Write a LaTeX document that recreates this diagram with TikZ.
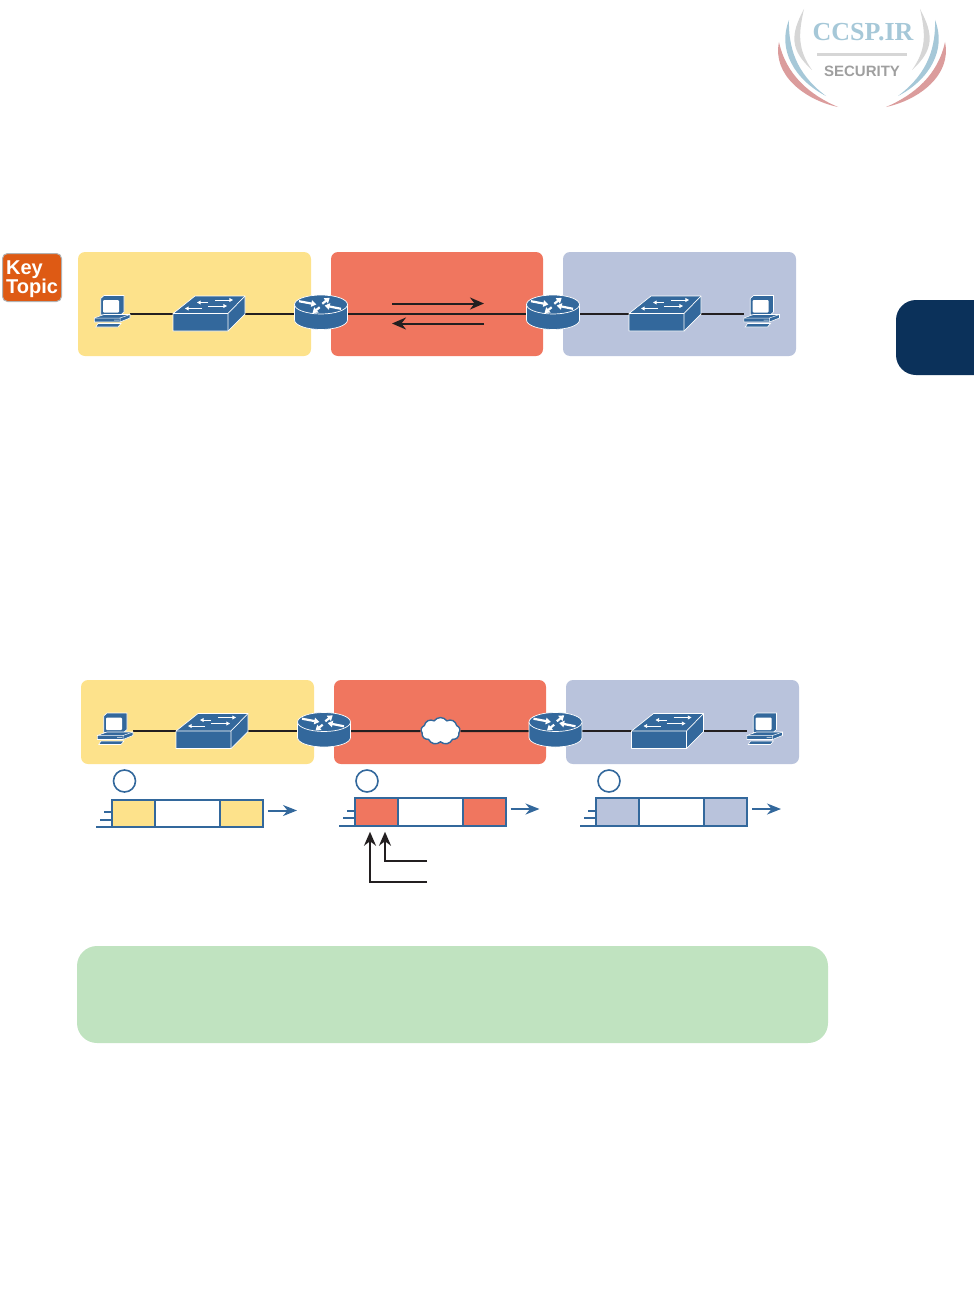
\documentclass[tikz,border=0pt]{standalone}
\usepackage{fontspec}
\setmainfont{Liberation Sans}
\newfontfamily\serifa{Liberation Serif}
\usetikzlibrary{arrows.meta,positioning,shapes.symbols}
\definecolor{Crema}{HTML}{FDE28B}
\definecolor{Coral}{HTML}{F0765F}
\definecolor{Lavanda}{HTML}{B9C3DC}
\definecolor{Acero}{HTML}{33689C}
\definecolor{Menta}{HTML}{C0E3C0}
\definecolor{Marino}{HTML}{0B315A}
\definecolor{Naranja}{HTML}{DE5A14}
\definecolor{Negro}{HTML}{231F20}
\definecolor{Celeste}{HTML}{A6C8D8}
\definecolor{Salmon}{HTML}{DB9C9C}
\definecolor{Perla}{HTML}{D6D6D6}

\begin{document}
\begin{tikzpicture}[x=1pt,y=-1pt,
        zona/.style={fill=#1,rounded corners=7pt,inner sep=0pt,outer sep=0pt},
        hueco/.style={inner sep=0pt,outer sep=0pt,minimum width=#1,minimum height=20pt},
        celda/.style={draw=Acero,fill=#1,line width=2pt,minimum width=43pt,minimum height=27.5pt,inner sep=0pt,outer sep=0pt},
        cuerpo/.style={draw=Acero,fill=white,line width=2pt,minimum width=65pt,minimum height=27.5pt,inner sep=0pt,outer sep=0pt},
        ronda/.style={circle,draw=Acero,fill=white,line width=1.6pt,minimum size=22pt,inner sep=0pt},
        enlace/.style={line width=2pt,draw=Negro},
        flecha/.style={-{Stealth[length=14pt,width=12pt]},line width=2pt,draw=Negro},
        salida/.style={-{Stealth[length=14pt,width=11pt]},line width=2pt,draw=Acero},
        traza/.style={line width=2pt,draw=Acero},
        blanca/.style={-{Triangle[length=3.6pt,width=3.8pt]},draw=white,line width=#1},
        gruesa/.style={-{Triangle[length=5pt,width=6.5pt]},draw=white,line width=2.2pt},
        estacion/.pic={
          \filldraw[fill=Acero,draw=white,line width=.6pt] (-11.3,-15) -- (-8,-18) -- (12,-18) -- (12,-1.5) -- (8.7,1.5) -- (-11.3,1.5) -- cycle;
          \fill[white,rounded corners=1pt] (-9,-13.5) rectangle (7,-1);
          \filldraw[fill=Acero,draw=white,line width=.6pt] (-17.7,4.5) -- (-8,1) -- (18,1) -- (18,4.5) -- (8,8.5) -- (-17.7,8.5) -- cycle;
          \draw[white,line width=.5pt] (-17.7,4.5) -- (8,4.5) -- (18,1) (8,4.5) -- (8,8.5) (2,6.5) -- (7,6.5);
          \filldraw[fill=Acero,draw=white,line width=.6pt] (-16.3,13.5) -- (-14,10) -- (9,10) -- (6,13.5) -- cycle;
        },
        conmutador/.pic={
          \filldraw[fill=Acero,draw=white,line width=.7pt,line join=round] (-36,0) -- (-14,-17.5) -- (36,-17.5) -- (36,.5) -- (19,17.5) -- (-36,17.5) -- cycle;
          \draw[white,line width=.7pt] (-36,0) -- (19,0) -- (36,-17.5) (19,0) -- (19,17.5);
          \draw[blanca=.8pt] (-1,-11) -- (-12,-11);
          \draw[blanca=.8pt] (6,-13.5) -- (24,-13.5);
          \draw[blanca=.8pt] (-7,-5) -- (-24,-5);
          \draw[blanca=.8pt] (-1,-7.5) -- (18,-7.5);
        },
        enrutador/.pic={
          \filldraw[fill=Acero,draw=white,line width=.7pt] (-26.5,-9) -- (-26.5,6.5) arc[start angle=180,end angle=360,x radius=26.5pt,y radius=9.5pt] -- (26.5,-9);
          \filldraw[fill=Acero,draw=white,line width=.7pt] (0,-9) circle[x radius=26.5pt,y radius=9.5pt];
          \draw[gruesa] (-22,-12.3) -- (-4.7,-9);
          \draw[gruesa] (1.3,-9.7) -- (8.7,-15.7);
          \draw[gruesa] (20,-4.7) -- (3.7,-8);
          \draw[gruesa] (-1.3,-6.3) -- (-8.5,-.5);
        },
        alas/.pic={
          \fill[Perla] (-58,9) .. controls (-72,35) and (-72,50) .. (-50,70) .. controls (-64,50) and (-64,35) .. (-58,9);
          \fill[Celeste] (-73,20) .. controls (-85,50) and (-67,80) .. (-36,96) .. controls (-60,78) and (-74,55) .. (-73,20);
          \fill[Salmon] (-83,42) .. controls (-90,75) and (-57,100) .. (-24,107) .. controls (-52,95) and (-76,75) .. (-83,42);
        }]
        \useasboundingbox (0,0) rectangle (974,1314);

        % marca de agua
        \pic at (862,0) {alas};
        \pic[xscale=-1] at (862,0) {alas};
        \node[text=Celeste,font=\serifa\bfseries\fontsize{26}{26}\selectfont,inner sep=0pt] (marca) at (863,32) {CCSP.IR};
        \node[fill=Perla,minimum width=90pt,minimum height=3pt,inner sep=0pt] (raya) at (862,55) {};
        \node[text=gray!75,font=\bfseries\fontsize{15}{15}\selectfont,inner sep=0pt] (seguridad) at (862,71) {SECURITY};

        % pestana y distintivo
        \fill[Marino,rounded corners=20pt] (974,300) -- (896,300) -- (896,375) -- (974,375);
        \node[fill=Naranja,draw=gray!60,line width=1pt,rounded corners=5pt,minimum width=59pt,minimum height=48pt,inner sep=0pt] (clave) at (32,277.5) {};
        \node[text=white,inner sep=0pt,align=left,font=\bfseries\fontsize{20}{17}\selectfont,yshift=-2pt] (rotulo) at (clave) {Key\\[-1pt]Topic};

        % primera red
        \node[zona=Crema,minimum width=233pt,minimum height=104pt] (z1) at (194.5,304) {};
        \node[zona=Coral,minimum width=212pt,minimum height=104pt,right=20pt of z1] (z2) {};
        \node[zona=Lavanda,minimum width=233pt,minimum height=104pt,right=20pt of z2] (z3) {};
        \node[hueco=36pt] (pc1) at (112,313.5) {};
        \node[hueco=72pt] (sw1) at (209,313.5) {};
        \node[hueco=53pt] (r1) at (321,313.5) {};
        \node[hueco=53pt] (r2) at (553,313.5) {};
        \node[hueco=72pt] (sw2) at (665,313.5) {};
        \node[hueco=36pt] (pc2) at (761.5,313.5) {};
        \draw[enlace] (pc1) -- (sw1);
        \draw[enlace] (sw1) -- (r1);
        \draw[enlace] (r1) -- (r2);
        \draw[enlace] (r2) -- (sw2);
        \draw[enlace] (sw2) -- (pc2);
        \pic at (pc1) {estacion};
        \pic at (sw1) {conmutador};
        \pic at (r1) {enrutador};
        \pic at (r2) {enrutador};
        \pic at (sw2) {conmutador};
        \pic at (pc2) {estacion};
        \coordinate (ida0) at (392,303.5);
        \coordinate (ida1) at (484,303.5);
        \coordinate (vuelta0) at (484,323.5);
        \coordinate (vuelta1) at (392,323.5);
        \draw[flecha] (ida0) -- (ida1);
        \draw[flecha] (vuelta0) -- (vuelta1);

        % segunda red
        \node[zona=Crema,minimum width=233pt,minimum height=84pt] (z4) at (197.5,722) {};
        \node[zona=Coral,minimum width=212pt,minimum height=84pt,right=20pt of z4] (z5) {};
        \node[zona=Lavanda,minimum width=233pt,minimum height=84pt,right=20pt of z5] (z6) {};
        \node[hueco=36pt] (pc3) at (115,731) {};
        \node[hueco=72pt] (sw3) at (212,731) {};
        \node[hueco=53pt] (r3) at (324,731) {};
        \node[cloud,cloud puffs=9,cloud puff arc=110,draw=Acero,fill=white,line width=1.4pt,minimum width=39pt,minimum height=27pt,inner sep=0pt] (nube) at (440.5,731) {};
        \node[hueco=53pt] (r4) at (555.5,731) {};
        \node[hueco=72pt] (sw4) at (667.5,731) {};
        \node[hueco=36pt] (pc4) at (764.5,731) {};
        \draw[enlace] (pc3) -- (sw3);
        \draw[enlace] (sw3) -- (r3);
        \draw[enlace] (r3) -- (nube);
        \draw[enlace] (nube) -- (r4);
        \draw[enlace] (r4) -- (sw4);
        \draw[enlace] (sw4) -- (pc4);
        \pic at (pc3) {estacion};
        \pic at (sw3) {conmutador};
        \pic at (r3) {enrutador};
        \pic at (r4) {enrutador};
        \pic at (sw4) {conmutador};
        \pic at (pc4) {estacion};

        % tramas
        \node[ronda] (n1) at (124.5,781) {};
        \node[ronda] (n2) at (367,781) {};
        \node[ronda] (n3) at (609,781) {};
        \node[celda=Crema] (a1) at (133.5,813.5) {};
        \node[cuerpo,right=0pt of a1] (a2) {};
        \node[celda=Crema,right=0pt of a2] (a3) {};
        \node[celda=Coral] (b1) at (376,812) {};
        \node[cuerpo,right=0pt of b1] (b2) {};
        \node[celda=Coral,right=0pt of b2] (b3) {};
        \node[celda=Lavanda] (c1) at (617.5,812) {};
        \node[cuerpo,right=0pt of c1] (c2) {};
        \node[celda=Lavanda,right=0pt of c2] (c3) {};
        \draw[salida] ([xshift=5pt,yshift=3pt]a3.east) -- ++(29,0);
        \draw[salida] ([xshift=5pt,yshift=3pt]b3.east) -- ++(29,0);
        \draw[salida] ([xshift=5pt,yshift=3pt]c3.east) -- ++(29,0);
        \draw[traza] (a1.south west) -- ++(-16,0);
        \draw[traza] ([yshift=7.5pt]a1.south west) -- ++(-12,0);
        \draw[traza] ([yshift=15pt]a1.south west) -- ++(-8,0);
        \draw[traza] (b1.south west) -- ++(-16,0);
        \draw[traza] ([yshift=7.5pt]b1.south west) -- ++(-12,0);
        \draw[traza] ([yshift=15pt]b1.south west) -- ++(-8,0);
        \draw[traza] (c1.south west) -- ++(-16,0);
        \draw[traza] ([yshift=7.5pt]c1.south west) -- ++(-12,0);
        \draw[traza] ([yshift=15pt]c1.south west) -- ++(-8,0);
        \coordinate (nota1) at (427,861);
        \coordinate (nota2) at (427,882);
        \draw[flecha] (nota1) -| ([xshift=9pt,yshift=-6pt]b1.south);
        \draw[flecha] (nota2) -| ([xshift=-6pt,yshift=-6pt]b1.south);

        % recuadro verde
        \node[fill=Menta,rounded corners=20pt,minimum width=751pt,minimum height=97pt,inner sep=0pt] (nota) at (452.5,994.5) {};
      \end{tikzpicture}
\end{document}
